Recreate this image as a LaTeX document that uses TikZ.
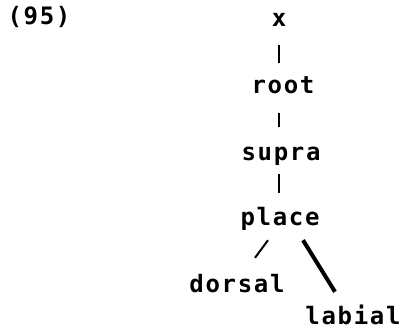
\documentclass[tikz,border=0pt]{standalone}
\usepackage{fontspec}
\newfontfamily\termfont[LetterSpace=7]{DejaVu Sans Mono}
\tikzset{
    feat/.style={anchor=base, inner sep=0pt, text height=14pt, text depth=4pt,
        font=\termfont\bfseries\fontsize{24}{30}\selectfont},
    bar/.style={black, line width=2.8pt}
}

\begin{document}
\begin{tikzpicture}[x=1pt, y=-1pt]
\useasboundingbox (0,0) rectangle (401,329);
\node[feat] (num) at (39,25) {(95)};
\node[feat] (x) at (279,27) {x};
\node[feat] (root) at (283,93) {root};
\node[feat] (supra) at (281,160) {supra};
\node[feat] (place) at (280,225) {place};
\node[feat] (dorsal) at (237,292) {dorsal};
\node[feat] (labial) at (353,324) {labial};
\draw[bar, shorten <=14pt, shorten >=16pt] (x.south) -- (x.south |- root.north);
\draw[bar, shorten <=16pt, shorten >=19pt] (x.south |- root.south) -- (x.south |- supra.north);
\draw[bar, shorten <=10pt, shorten >=18pt] (x.south |- supra.south) -- (x.south |- place.north);
\draw[black, line width=2pt] ([shift={(-12,11)}]place.south) -- ([shift={(18,-20)}]dorsal.north);
\draw[black, line width=4pt] ([shift={(23,11)}]place.south) -- ([shift={(-18,-18)}]labial.north);
\end{tikzpicture}
\end{document}
